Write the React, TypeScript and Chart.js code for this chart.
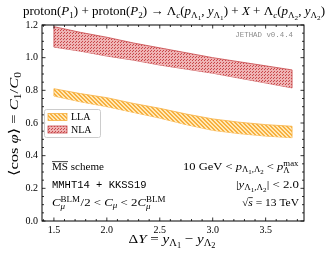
import React, { useEffect, useRef } from "react";
import { Chart, registerables } from "chart.js";
Chart.register(...registerables);

// ---------------- data ----------------
const deltaY = [1.5, 1.75, 2.0, 2.25, 2.5, 2.75, 3.0, 3.25, 3.5, 3.75];
const nlaUpper = [1.19, 1.155, 1.125, 1.09, 1.06, 1.03, 1.0, 0.975, 0.95, 0.925];
const nlaLower = [1.065, 1.04, 1.01, 0.985, 0.955, 0.93, 0.905, 0.875, 0.845, 0.815];
const llaUpper = [0.81, 0.78, 0.755, 0.72, 0.69, 0.655, 0.625, 0.605, 0.59, 0.58];
const llaLower = [0.765, 0.73, 0.7, 0.665, 0.63, 0.59, 0.555, 0.535, 0.52, 0.51];
const xTickValues = [1.5, 2.0, 2.5, 3.0, 3.5];
const yTickValues = [0, 0.2, 0.4, 0.6, 0.8, 1.0, 1.2];
const xRange = [1.3875, 3.8625];
const yRange = [0, 1.2];
const seriesNames = ["LLA", "NLA"];

const SERIF = '"Liberation Serif", "DejaVu Serif", serif';
const MONO = '"Liberation Mono", "DejaVu Sans Mono", monospace';

const LLA_EDGE = "#f7b040";
const LLA_BG = "#ffe9b8";
const NLA_EDGE = "#c8474a";
const NLA_BG = "#efb4b4";

type Seg = { t?: string; f?: "r" | "i" | "m"; l?: number; over?: boolean; sup?: string; sub?: string; subF?: "r" | "i" };

const LV: Record<number, { s: number; dy: number }> = {
  0: { s: 1, dy: 0 },
  1: { s: 0.7, dy: 0.22 },
  2: { s: 0.55, dy: 0.36 },
  [-1]: { s: 0.7, dy: -0.4 },
};

function fontFor(f: string | undefined, size: number) {
  if (f === "m") return `${size}px ${MONO}`;
  if (f === "i") return `italic ${size}px ${SERIF}`;
  return `${size}px ${SERIF}`;
}

function segWidth(ctx: CanvasRenderingContext2D, seg: Seg, size: number) {
  if (seg.sup !== undefined || seg.sub !== undefined) {
    ctx.font = fontFor("r", size * 0.7);
    const w1 = seg.sup ? ctx.measureText(seg.sup).width : 0;
    ctx.font = fontFor(seg.subF || "r", size * 0.7);
    const w2 = seg.sub ? ctx.measureText(seg.sub).width : 0;
    return Math.max(w1, w2) + 0.5;
  }
  const lv = LV[seg.l || 0];
  ctx.font = fontFor(seg.f, size * lv.s);
  return ctx.measureText(seg.t || "").width;
}

// draws mixed text; if fitW is given, the line is stretched horizontally to that width
function drawRich(
  ctx: CanvasRenderingContext2D,
  segs: Seg[],
  x: number,
  y: number,
  size: number,
  align: "left" | "center" | "right",
  fitW?: number
) {
  const widths = segs.map((s) => segWidth(ctx, s, size));
  const total = widths.reduce((a, b) => a + b, 0);
  const sx = fitW ? fitW / total : 1;
  ctx.save();
  ctx.translate(x, y);
  ctx.scale(sx, 1);
  let cx = align === "center" ? -total / 2 : align === "right" ? -total : 0;
  ctx.textAlign = "left";
  ctx.textBaseline = "alphabetic";
  segs.forEach((s, i) => {
    if (s.sup !== undefined || s.sub !== undefined) {
      if (s.sup) {
        ctx.font = fontFor("r", size * 0.7);
        ctx.fillText(s.sup, cx, -size * 0.42);
      }
      if (s.sub) {
        ctx.font = fontFor(s.subF || "r", size * 0.7);
        ctx.fillText(s.sub, cx, size * 0.25);
      }
    } else {
      const lv = LV[s.l || 0];
      ctx.font = fontFor(s.f, size * lv.s);
      ctx.fillText(s.t || "", cx, lv.dy * size);
      if (s.over) {
        ctx.save();
        ctx.lineWidth = 0.7;
        ctx.strokeStyle = ctx.fillStyle as string;
        ctx.beginPath();
        ctx.moveTo(cx, -size * 0.8);
        ctx.lineTo(cx + widths[i], -size * 0.8);
        ctx.stroke();
        ctx.restore();
      }
    }
    cx += widths[i];
  });
  ctx.restore();
}

const titleSegs: Seg[] = [
  { t: "proton(" }, { t: "P", f: "i" }, { t: "1", l: 1 }, { t: ") + proton(" }, { t: "P", f: "i" }, { t: "2", l: 1 },
  { t: ") → Λ" }, { t: "c", f: "i", l: 1 }, { t: "(" }, { t: "p", f: "i" }, { t: "Λ", l: 1 }, { t: "1", l: 2 },
  { t: ", " }, { t: "y", f: "i" }, { t: "Λ", l: 1 }, { t: "1", l: 2 }, { t: ") + " }, { t: "X", f: "i" },
  { t: " + Λ" }, { t: "c", f: "i", l: 1 }, { t: "(" }, { t: "p", f: "i" }, { t: "Λ", l: 1 }, { t: "2", l: 2 },
  { t: ", " }, { t: "y", f: "i" }, { t: "Λ", l: 1 }, { t: "2", l: 2 }, { t: ")" },
];
const yTitleSegs: Seg[] = [
  { t: "⟨cos " }, { t: "φ", f: "i" }, { t: "⟩ = " }, { t: "C", f: "i" }, { t: "1", l: 1 }, { t: "/" }, { t: "C", f: "i" }, { t: "0", l: 1 },
];
const xTitleSegs: Seg[] = [
  { t: "Δ" }, { t: "Y", f: "i" }, { t: " = " }, { t: "y", f: "i" }, { t: "Λ", l: 1 }, { t: "1", l: 2 },
  { t: " − " }, { t: "y", f: "i" }, { t: "Λ", l: 1 }, { t: "2", l: 2 },
];
const leftNotes: Seg[][] = [
  [{ t: "MS", over: true }, { t: " scheme" }],
  [{ t: "MMHT14 + KKSS19", f: "m" }],
  [{ t: "C", f: "i" }, { sup: "BLM", sub: "μ", subF: "i" }, { t: "/2 < " }, { t: "C", f: "i" }, { t: "μ", f: "i", l: 1 }, { t: " < 2" }, { t: "C", f: "i" }, { sup: "BLM", sub: "μ", subF: "i" }],
];
const leftFit = [52, 0, 114];
const rightNotes: Seg[][] = [
  [{ t: "10 GeV < " }, { t: "p", f: "i" }, { t: "Λ", l: 1 }, { t: "1", l: 2 }, { t: ",Λ", l: 1 }, { t: "2", l: 2 }, { t: " < " }, { t: "p", f: "i" }, { sup: "max", sub: "Λ" }],
  [{ t: "|" }, { t: "y", f: "i" }, { t: "Λ", l: 1 }, { t: "1", l: 2 }, { t: ",Λ", l: 1 }, { t: "2", l: 2 }, { t: "| < 2.0" }],
  [{ t: "√" }, { t: "s", f: "i", over: true }, { t: " = 13 TeV" }],
];
const rightFit = [116, 63, 57];

function makeHatch(bg: string, fg: string) {
  const c = document.createElement("canvas");
  c.width = 4;
  c.height = 4;
  const g = c.getContext("2d")!;
  g.fillStyle = bg;
  g.fillRect(0, 0, 4, 4);
  g.fillStyle = fg;
  for (let y = 0; y < 4; y++) {
    for (let x = 0; x < 4; x++) {
      const m = (((x - y) % 4) + 4) % 4;
      if (m === 0 || m === 1) g.fillRect(x, y, 1, 1);
    }
  }
  return g.createPattern(c, "repeat")!;
}

function makeDots(bg: string, fg: string) {
  const c = document.createElement("canvas");
  c.width = 3;
  c.height = 3;
  const g = c.getContext("2d")!;
  g.fillStyle = bg;
  g.fillRect(0, 0, 3, 3);
  g.fillStyle = fg;
  g.fillRect(0, 0, 1, 1);
  g.fillRect(1, 2, 1, 1);
  return g.createPattern(c, "repeat")!;
}

export default function App() {
  const ref = useRef<HTMLCanvasElement | null>(null);
  useEffect(() => {
    document.body.style.margin = "0";
    const canvas = ref.current!;
    const llaPat = makeHatch(LLA_BG, LLA_EDGE);
    const nlaPat = makeDots(NLA_BG, NLA_EDGE);
    const pts = (ys: number[]) => deltaY.map((x, i) => ({ x, y: ys[i] }));

    const bands = [
      { up: 0, lo: 1, color: NLA_EDGE },
      { up: 2, lo: 3, color: LLA_EDGE },
    ];

    const deco = {
      id: "deco",
      afterDatasetsDraw(chart: any) {
        const ctx = chart.ctx as CanvasRenderingContext2D;
        const xs = chart.scales.x, ys = chart.scales.y;
        ctx.save();
        ctx.lineWidth = 0.8;
        bands.forEach((b) => {
          const u = chart.data.datasets[b.up].data as any[];
          const l = chart.data.datasets[b.lo].data as any[];
          ctx.strokeStyle = b.color;
          [0, u.length - 1].forEach((i) => {
            ctx.beginPath();
            ctx.moveTo(xs.getPixelForValue(u[i].x), ys.getPixelForValue(u[i].y));
            ctx.lineTo(xs.getPixelForValue(l[i].x), ys.getPixelForValue(l[i].y));
            ctx.stroke();
          });
        });
        ctx.restore();
      },
      afterDraw(chart: any) {
        const ctx = chart.ctx as CanvasRenderingContext2D;
        const { left, right, top, bottom } = chart.chartArea;
        const xs = chart.scales.x, ys = chart.scales.y;
        ctx.save();
        // frame
        ctx.strokeStyle = "#000";
        ctx.lineWidth = 1;
        ctx.strokeRect(left, top, right - left, bottom - top);
        // ticks
        ctx.lineWidth = 0.8;
        const tickX = (v: number, len: number) => {
          const p = xs.getPixelForValue(v);
          ctx.beginPath();
          ctx.moveTo(p, bottom);
          ctx.lineTo(p, bottom - len);
          ctx.moveTo(p, top);
          ctx.lineTo(p, top + len);
          ctx.stroke();
        };
        const tickY = (v: number, len: number) => {
          const p = ys.getPixelForValue(v);
          ctx.beginPath();
          ctx.moveTo(left, p);
          ctx.lineTo(left + len, p);
          ctx.moveTo(right, p);
          ctx.lineTo(right - len, p);
          ctx.stroke();
        };
        for (let k = 14; k <= 38; k++) {
          const v = k / 10;
          if (v < xRange[0] || v > xRange[1]) continue;
          tickX(v, k % 5 === 0 ? 3.5 : 2);
        }
        for (let k = 0; k <= 24; k++) {
          tickY(k / 20, k % 4 === 0 ? 3.5 : 2);
        }
        // title
        ctx.fillStyle = "#000";
        drawRich(ctx, titleSegs, 174, 15, 13, "center", 302);
        // x title
        drawRich(ctx, xTitleSegs, 172, 243, 13.5, "center", 87);
        // y title
        ctx.save();
        ctx.translate(18, 124);
        ctx.rotate(-Math.PI / 2);
        drawRich(ctx, yTitleSegs, 0, 0, 13.5, "center", 104);
        ctx.restore();
        // notes
        leftNotes.forEach((s, i) => drawRich(ctx, s, 52, 170 + i * 18, 10.5, "left", leftFit[i] || undefined));
        rightNotes.forEach((s, i) => drawRich(ctx, s, 299, 170 + i * 18, 10.5, "right", rightFit[i]));
        // watermark
        ctx.fillStyle = "#8c8c8c";
        ctx.font = `7.4px ${MONO}`;
        ctx.textAlign = "right";
        ctx.textBaseline = "alphabetic";
        ctx.fillText("JETHAD v0.4.4", 293, 37);
        // legend
        const lx = 44, ly = 109, lw = 56, lh = 28;
        ctx.fillStyle = "rgba(255,255,255,0.8)";
        ctx.strokeStyle = "#cccccc";
        ctx.lineWidth = 1;
        ctx.beginPath();
        (ctx as any).roundRect(lx + 0.5, ly + 0.5, lw, lh, 2);
        ctx.fill();
        ctx.stroke();
        const entries = [
          { name: seriesNames[0], pat: llaPat, edge: LLA_EDGE },
          { name: seriesNames[1], pat: nlaPat, edge: NLA_EDGE },
        ];
        entries.forEach((e, i) => {
          const cy = ly + 8 + i * 12.5;
          ctx.fillStyle = e.pat;
          ctx.fillRect(lx + 4, cy - 3.5, 19, 7);
          ctx.strokeStyle = e.edge;
          ctx.lineWidth = 0.8;
          ctx.strokeRect(lx + 4, cy - 3.5, 19, 7);
          ctx.fillStyle = "#000";
          ctx.font = `10px ${SERIF}`;
          ctx.textAlign = "left";
          ctx.textBaseline = "middle";
          ctx.fillText(e.name, lx + 27, cy + 0.5);
        });
        ctx.restore();
      },
    };

    const chart = new Chart(canvas, {
      type: "line",
      data: {
        datasets: [
          { label: "NLA", data: pts(nlaUpper), fill: "+1", backgroundColor: nlaPat, borderColor: NLA_EDGE, borderWidth: 0.8, pointRadius: 0, tension: 0 },
          { label: "NLA-low", data: pts(nlaLower), fill: false, borderColor: NLA_EDGE, borderWidth: 0.8, pointRadius: 0, tension: 0 },
          { label: "LLA", data: pts(llaUpper), fill: "+1", backgroundColor: llaPat, borderColor: LLA_EDGE, borderWidth: 0.8, pointRadius: 0, tension: 0 },
          { label: "LLA-low", data: pts(llaLower), fill: false, borderColor: LLA_EDGE, borderWidth: 0.8, pointRadius: 0, tension: 0 },
        ] as any,
      },
      options: {
        responsive: false,
        animation: false,
        devicePixelRatio: 1,
        layout: { padding: { top: 25, right: 25, bottom: 0, left: 0 } },
        plugins: { legend: { display: false }, tooltip: { enabled: false } },
        scales: {
          x: {
            type: "linear",
            min: xRange[0],
            max: xRange[1],
            afterBuildTicks: (s: any) => {
              s.ticks = xTickValues.map((v) => ({ value: v }));
            },
            afterFit: (s: any) => {
              s.height = 33;
            },
            ticks: {
              color: "#000",
              font: { family: SERIF, size: 10 },
              padding: 3,
              maxRotation: 0,
              autoSkip: false,
              callback: (v: any) => Number(v).toFixed(1),
            },
            grid: { display: false, drawTicks: false },
            border: { display: false },
          },
          y: {
            type: "linear",
            min: yRange[0],
            max: yRange[1],
            afterBuildTicks: (s: any) => {
              s.ticks = yTickValues.map((v) => ({ value: v }));
            },
            afterFit: (s: any) => {
              s.width = 42;
            },
            ticks: {
              color: "#000",
              font: { family: SERIF, size: 10 },
              padding: 4,
              autoSkip: false,
              callback: (v: any) => Number(v).toFixed(1),
            },
            grid: { display: false, drawTicks: false },
            border: { display: false },
          },
        },
      } as any,
      plugins: [deco],
    });
    return () => chart.destroy();
  }, []);

  return (
    <div style={{ position: "fixed", left: 0, top: 0, width: 329, height: 254, background: "#fff" }}>
      <canvas ref={ref} width={329} height={254} style={{ display: "block", width: 329, height: 254 }} />
    </div>
  );
}
